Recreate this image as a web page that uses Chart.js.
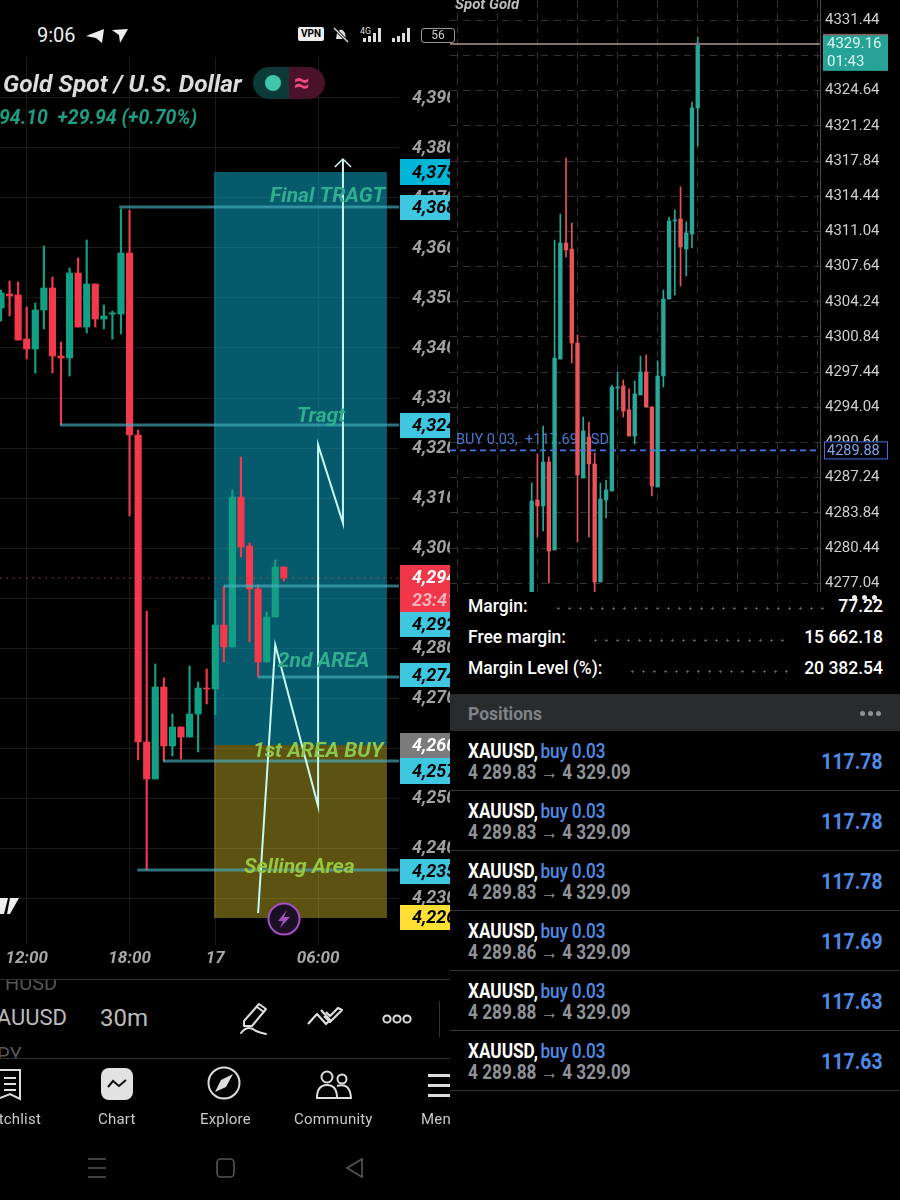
<!DOCTYPE html>
<html>
<head>
<meta charset="utf-8">
<script src="https://cdn.jsdelivr.net/npm/chart.js@4"></script>
<style>
html,body{margin:0;padding:0;background:#000;}
body{width:900px;height:1200px;position:relative;overflow:hidden;font-family:Roboto,sans-serif;color:#fff;}
.abs{position:absolute;white-space:nowrap;line-height:1;}
#leftWrap{position:absolute;left:0;top:57px;width:450px;height:918px;overflow:hidden;}
#rightWrap{position:absolute;left:450px;top:0;width:450px;height:592px;overflow:hidden;}
canvas{display:block;}
.dots{position:absolute;height:3px;background:radial-gradient(circle,#5a5a5a 1px,transparent 1.3px) 0 0/11px 3px;}
.row{position:absolute;left:450px;width:450px;height:60px;border-bottom:1px solid #333;box-sizing:border-box;}
.row .a{position:absolute;left:18px;top:10px;font-size:20px;font-weight:500;transform:scaleX(.86);transform-origin:left;white-space:nowrap;line-height:1;}
.row .a b{font-weight:700;color:#fff;}
.row .a span{color:#4f8be8;margin-left:-2px;letter-spacing:-.2px;}
.row .b{position:absolute;left:18px;top:31px;font-size:20px;font-weight:700;color:#8f9296;transform:scaleX(.86);transform-origin:left;white-space:nowrap;line-height:1;}
.row .c{position:absolute;right:18px;top:20px;font-size:22px;font-weight:700;color:#4f8be8;transform:scaleX(.88);transform-origin:right;line-height:1;}
.nav{position:absolute;top:1111px;font-size:15px;color:#c9c9c9;line-height:1;white-space:nowrap;letter-spacing:.2px;}
.acct{font-size:17.5px;font-weight:500;}
</style>
</head>
<body>
<div id="leftWrap"><canvas id="leftChart" width="520" height="918"></canvas></div>
<div id="rightWrap"><canvas id="rightChart" width="450" height="592"></canvas></div>

<!-- status bar -->
<div class="abs" style="left:37px;top:25px;font-size:20px;color:#eee;">9:06</div>
<svg class="abs" style="left:84px;top:26px" width="46" height="20" viewBox="0 0 46 20">
  <path d="M2 10 L20 3 L18 17 L12 12 Z" fill="#eee"/>
  <path d="M28 4 L44 3 L36 17 L35 9 Z" fill="#eee"/>
</svg>
<div class="abs" style="left:298px;top:27px;width:26px;height:14px;background:#eee;color:#000;font-size:10px;font-weight:700;text-align:center;line-height:14px;border-radius:2px;">VPN</div>
<svg class="abs" style="left:332px;top:26px" width="18" height="18" viewBox="0 0 18 18">
  <path d="M4 13 L5 7 Q9 0 13 7 L14 13 Z M7 15 h4" fill="#ddd"/><path d="M2 2 L16 16" stroke="#000" stroke-width="3"/><path d="M2 2 L16 16" stroke="#ddd" stroke-width="1.4"/>
</svg>
<div class="abs" style="left:360px;top:27px;font-size:9px;color:#ddd;">4G</div>
<svg class="abs" style="left:355px;top:27px" width="60" height="16" viewBox="0 0 60 16" fill="#ddd">
  <rect x="8" y="11" width="3" height="4"/><rect x="13" y="9" width="3" height="6"/><rect x="18" y="6" width="3" height="9"/><rect x="23" y="1" width="3" height="14"/>
  <rect x="37" y="11" width="3" height="4"/><rect x="42" y="9" width="3" height="6"/><rect x="47" y="6" width="3" height="9"/><rect x="52" y="1" width="3" height="14"/>
</svg>
<div class="abs" style="left:421px;top:28px;width:32px;height:13px;border:1px solid #999;border-radius:3px;font-size:12px;color:#ccc;text-align:center;line-height:13px;">56</div>

<!-- title -->
<div class="abs" style="left:3px;top:72px;font-size:24.5px;font-weight:700;font-style:italic;color:#dcdcdc;">Gold Spot / U.S. Dollar</div>
<div class="abs" style="left:-1px;top:108px;font-size:19.5px;font-weight:700;font-style:italic;color:#1f9d84;">94.10&nbsp; +29.94 (+0.70%)</div>
<div class="abs" style="left:253px;top:67px;width:36px;height:32px;background:#0c3a38;border-radius:16px 0 0 16px;"></div>
<div class="abs" style="left:289px;top:67px;width:36px;height:32px;background:#4a1228;border-radius:0 16px 16px 0;"></div>
<div class="abs" style="left:265px;top:75px;width:16px;height:16px;background:#3fc6ac;border-radius:50%;"></div>
<div class="abs" style="left:294px;top:69px;font-size:28px;font-weight:700;color:#ec4a80;">≈</div>

<!-- logo + lightning -->
<svg class="abs" style="left:0;top:896px" width="20" height="20" viewBox="0 0 20 20"><path d="M0 2 H8 L4 18 H0 Z M10 2 H19 L10 18 H7 Z" fill="#eee"/></svg>
<svg class="abs" style="left:266px;top:901px" width="36" height="36" viewBox="0 0 36 36">
  <circle cx="18" cy="18" r="15.5" fill="#1c1024" stroke="#a64fc4" stroke-width="2"/>
  <path d="M21 9 L12 20 H17 L14 27 L24 16 H18 Z" fill="#a64fc4"/>
</svg>

<!-- toolbar -->
<div class="abs" style="left:0;top:979px;width:450px;height:1px;background:#333;"></div>
<div class="abs" style="left:0;top:1058px;width:450px;height:1px;background:#333;"></div>
<div style="position:absolute;left:0;top:980px;width:450px;height:78px;overflow:hidden;">
  <div class="abs" style="left:5px;top:-7px;font-size:20px;color:#555;">HUSD</div>
  <div class="abs" style="left:-17px;top:27px;font-size:22px;color:#bbb;">XAUUSD</div>
  <div class="abs" style="left:100px;top:26px;font-size:24px;color:#bbb;">30m</div>
  <div class="abs" style="left:-14px;top:65px;font-size:20px;color:#555;">JPY</div>
</div>
<svg class="abs" style="left:238px;top:1000px" width="34" height="36" viewBox="0 0 34 36" fill="none" stroke="#ddd" stroke-width="2" stroke-linecap="round" stroke-linejoin="round">
  <path d="M6 21 L21 4 L28 9 L14 26 L6 26 Z M19 7 L26 12"/><path d="M3 33 Q10 24 18 31 Q23 33 28 34"/>
</svg>
<svg class="abs" style="left:306px;top:1006px" width="38" height="24" viewBox="0 0 38 24" fill="none" stroke="#ddd" stroke-width="2.2" stroke-linejoin="round">
  <path d="M2 18 L11 8 L20 18 L24 14 L15 4 M18 10 L24 16 L36 4 L32 2 L24 10 L20 6"/>
</svg>
<svg class="abs" style="left:381px;top:1012px" width="32" height="14" viewBox="0 0 32 14" fill="none" stroke="#ddd" stroke-width="2"><circle cx="6" cy="7" r="3.6"/><circle cx="16" cy="7" r="3.6"/><circle cx="26" cy="7" r="3.6"/></svg>
<div class="abs" style="left:439px;top:1001px;width:1px;height:36px;background:#333;"></div>

<!-- bottom nav -->
<svg class="abs" style="left:-2px;top:1068px" width="26" height="34" viewBox="0 0 26 34" fill="none" stroke="#ddd" stroke-width="2"><path d="M2 2 H22 V31 L12 26 L2 30 M6 10 H18 M6 16 H18 M6 22 H18"/></svg>
<div class="abs" style="left:101px;top:1068px;width:32px;height:32px;background:#e2e2e2;border-radius:8px;"></div>
<svg class="abs" style="left:107px;top:1078px" width="20" height="12" viewBox="0 0 20 12" fill="none" stroke="#111" stroke-width="2"><path d="M1 9 L6 3 L12 8 L19 2"/></svg>
<svg class="abs" style="left:207px;top:1066px" width="34" height="34" viewBox="0 0 34 34"><circle cx="17" cy="17" r="15.5" fill="none" stroke="#ddd" stroke-width="2"/><path d="M26 8 L19 21 L8 26 L14 14 Z" fill="#ddd"/></svg>
<svg class="abs" style="left:316px;top:1070px" width="36" height="30" viewBox="0 0 36 30" fill="none" stroke="#ddd" stroke-width="2"><circle cx="11" cy="7" r="5.5"/><circle cx="26" cy="9" r="4.5"/><path d="M1 28 Q1 15 11 15 Q21 15 21 28 Z M21 16 Q34 12 35 28 H21"/></svg>
<div class="abs" style="left:428px;top:1074px;width:22px;height:3px;background:#ddd;"></div>
<div class="abs" style="left:428px;top:1084px;width:22px;height:3px;background:#ddd;"></div>
<div class="abs" style="left:428px;top:1094px;width:22px;height:3px;background:#ddd;"></div>
<div style="position:absolute;left:0;top:1100px;width:450px;height:40px;overflow:hidden;">
  <div class="nav" style="left:-23px;top:12px;">Watchlist</div>
  <div class="nav" style="left:98px;top:12px;">Chart</div>
  <div class="nav" style="left:200px;top:12px;">Explore</div>
  <div class="nav" style="left:294px;top:12px;">Community</div>
  <div class="nav" style="left:421px;top:12px;">Menu</div>
</div>
<svg class="abs" style="left:85px;top:1156px" width="280" height="24" viewBox="0 0 280 24" fill="none" stroke="#555" stroke-width="1.6">
  <path d="M3 3 H21 M3 12 H21 M3 21 H21"/><rect x="132" y="3" width="17" height="18" rx="4"/><path d="M277 3 L262 12 L277 21 Z"/>
</svg>

<!-- account panel -->
<div class="abs" style="left:852px;top:595px;width:5px;height:5px;border-radius:50%;background:#eee;box-shadow:10px 0 0 #eee,20px 0 0 #eee;"></div>
<div class="abs acct" style="left:468px;top:598px;">Margin:</div>
<div class="abs acct" style="right:17px;top:598px;">77.22</div>
<div class="dots" style="left:553px;top:607px;width:275px;"></div>
<div class="abs acct" style="left:468px;top:629px;">Free margin:</div>
<div class="abs acct" style="right:17px;top:629px;">15 662.18</div>
<div class="dots" style="left:590px;top:639px;width:198px;"></div>
<div class="abs acct" style="left:468px;top:660px;">Margin Level (%):</div>
<div class="abs acct" style="right:17px;top:660px;">20 382.54</div>
<div class="dots" style="left:627px;top:670px;width:165px;"></div>
<div class="abs" style="left:450px;top:694px;width:450px;height:37px;background:#2a2b2d;"></div>
<div class="abs" style="left:468px;top:706px;font-size:17.5px;font-weight:700;color:#7f8388;">Positions</div>
<div class="abs" style="left:860px;top:711px;width:5px;height:5px;border-radius:50%;background:#8d9095;box-shadow:8px 0 0 #8d9095,16px 0 0 #8d9095;"></div>
<div id="rows"></div>

<script>
// left chart, Gold Spot 30m
var leftOpen  = [4348.0,4350.8,4350.6,4341.8,4339.8,4347.6,4352.0,4338.4,4338.0,4355.0,4344.2,4352.8,4345.8,4346.8,4346.8,4359.0,4322.6,4261.2,4253.8,4272.2,4260.4,4264.2,4262.2,4266.8,4272.0,4271.8,4284.6,4280.2,4310.2,4300.4,4291.8,4277.2,4286.2,4296.2];
var leftHigh  = [4351.6,4353.4,4353.2,4348.2,4349.0,4360.4,4354.2,4341.2,4356.0,4358.0,4361.6,4352.8,4348.6,4347.4,4367.8,4367.6,4323.6,4287.4,4276.8,4274.0,4266.8,4264.2,4276.4,4273.2,4275.8,4289.6,4292.4,4311.6,4318.2,4301.0,4292.6,4287.2,4297.6,4296.2];
var leftLow   = [4345.4,4346.4,4341.6,4337.8,4335.0,4343.8,4335.0,4324.6,4334.4,4344.2,4343.0,4344.2,4343.8,4341.8,4342.8,4306.4,4257.6,4235.6,4253.8,4257.4,4258.4,4257.8,4262.2,4259.2,4268.8,4266.6,4277.2,4280.2,4298.2,4281.2,4274.2,4277.2,4286.2,4293.4];
var leftClose = [4351.0,4350.4,4341.6,4339.8,4347.6,4352.0,4338.4,4338.0,4355.0,4344.2,4352.8,4345.8,4346.4,4347.0,4359.0,4322.6,4261.2,4253.8,4272.2,4260.4,4264.2,4262.2,4266.8,4272.0,4271.8,4284.6,4280.2,4310.2,4300.2,4291.8,4277.2,4286.2,4296.2,4294.0];
var leftPriceTicks = [4390,4380,4370,4360,4350,4340,4330,4320,4310,4300,4290,4280,4270,4260,4250,4240,4230];
var leftTimeTicks = [3,15,25,37];
var leftTimeLabels = ["12:00","18:00","17","06:00"];
var leftLevelStart = [13.8,6.9,26.0,30.0,18.9,15.9];
var leftLevelPrice = [4368.2,4324.6,4292.4,4274.2,4257.4,4235.6];
var lastPriceLeft = 4294.0;
var zigzagIndex = [30,32,37,37,39.9,39.9];
var zigzagPrice = [4227,4280.6,4248.4,4320.6,4305,4377.8];
var arrowIndex = [38.95,39.9,40.85];
var arrowPrice = [4376.2,4377.8,4376.2];
var zoneEdges = [24.85,45.03];
var zoneTeal = [4375.2,4260.6];
var zoneOlive = [4260.6,4226];
var noteTexts = ["Final TRAGT","Tragt","2nd AREA","1st AREA BUY","Selling Area"];
var noteIndex = [31.4,34.5,32.3,29.4,28.35];
var notePrice = [4370.2,4326.2,4277.2,4259.2,4236.0];
var noteColors = ["#2fae90","#2fae90","#2fae90","#8cc850","#98c83c"];
var tagTexts = ["4,375","4,368","4,324","4,294","23:41","4,292","4,274","4,260","4,257","4,235","4,226"];

// right chart, Spot Gold M5
var rightOpen  = [4275.43,4285.09,4284.51,4288.76,4280.26,4298.71,4309.92,4309.34,4300.26,4287.22,4291.18,4288.57,4277.17,4285.09,4285.96,4295.91,4296.11,4293.79,4291.27,4295.24,4297.46,4294.08,4286.35,4297.07,4304.51,4312.05,4312.24,4309.34,4310.79,4322.97];
var rightHigh  = [4286.73,4289.54,4292.24,4289.25,4310.21,4312.72,4318.13,4311.85,4301.03,4293.11,4292.63,4289.63,4286.73,4287.02,4296.20,4297.46,4296.69,4295.82,4296.59,4299.00,4299.10,4294.08,4298.52,4305.38,4312.43,4313.11,4315.33,4311.95,4323.54,4329.82];
var rightLow   = [4275.00,4281.52,4282.10,4277.07,4280.26,4298.71,4308.57,4298.33,4281.03,4287.22,4281.52,4275.43,4277.17,4283.35,4285.96,4293.79,4293.11,4291.27,4290.50,4295.24,4294.08,4285.48,4286.35,4296.01,4304.51,4304.90,4305.77,4306.73,4309.44,4319.29];
var rightClose = [4284.99,4284.51,4288.76,4280.16,4298.81,4309.92,4309.25,4300.26,4287.51,4291.76,4288.57,4277.17,4285.19,4286.06,4296.01,4296.01,4293.69,4291.27,4295.33,4297.46,4294.08,4286.44,4297.07,4304.51,4312.05,4312.14,4309.54,4310.89,4322.97,4329.25];
var rightPriceTicks = [4331.44,4328.04,4324.64,4321.24,4317.84,4314.44,4311.04,4307.64,4304.24,4300.84,4297.44,4294.04,4290.64,4287.24,4283.84,4280.44,4277.04];
var rightTimeTicks = [-13,-6,1,8,15,22,29,36,43,50];
var bidPrice = 4329.16;
var buyPrice = 4289.88;

// positions table
var posOpen = ["4 289.83","4 289.83","4 289.83","4 289.86","4 289.88","4 289.88"];
var posClose = "4 329.09";
var posProfit = ["117.78","117.78","117.78","117.69","117.63","117.63"];

var rowsHtml = "";
for (var r = 0; r < posOpen.length; r++) {
  rowsHtml += '<div class="row" style="top:' + (731 + r * 60) + 'px"><div class="a"><b>XAUUSD,</b> <span>buy 0.03</span></div>' +
    '<div class="b">' + posOpen[r] + ' → ' + posClose + '</div><div class="c">' + posProfit[r] + '</div></div>';
}
document.getElementById("rows").innerHTML = rowsHtml;

function candleSets(open, high, low, close, bodyW, wickW, up, down) {
  var wick = [], body = [], colors = [];
  for (var i = 0; i < open.length; i++) {
    wick.push({x: i, y: [low[i], high[i]]});
    body.push({x: i, y: [open[i], close[i]]});
    colors.push(close[i] >= open[i] ? up : down);
  }
  return [
    {type: "bar", data: wick, backgroundColor: colors, barThickness: wickW, grouped: false, order: 4},
    {type: "bar", data: body, backgroundColor: colors, barThickness: bodyW, grouped: false, order: 3}
  ];
}
function lineSet(xs, ys, color, width, dash, order) {
  return {type: "line", data: xs.map(function(x, i){ return {x: x, y: ys[i]}; }), borderColor: color, borderWidth: width,
    borderDash: dash || [], pointRadius: 0, tension: 0, fill: false, order: order};
}
// drop the label overhang, the plot has to fill the canvas
function noPad(s) {
  s.paddingTop = 0; s.paddingBottom = 0; s.paddingLeft = 0; s.paddingRight = 0;
}

var LEFT_XMIN = -0.117, LEFT_XMAX = 46.44;
var leftSets = candleSets(leftOpen, leftHigh, leftLow, leftClose, 6.5, 1.5, "#12a085", "#f23a4c");
leftSets.push(lineSet([LEFT_XMIN, LEFT_XMAX], [lastPriceLeft, lastPriceLeft], "#b04a44", 1, [1.5, 5], 2));
for (var n = 0; n < leftLevelPrice.length; n++) {
  leftSets.push(lineSet([leftLevelStart[n], LEFT_XMAX], [leftLevelPrice[n], leftLevelPrice[n]], "rgba(70,175,190,.65)", 3, null, 1));
}
leftSets.push(lineSet(zigzagIndex, zigzagPrice, "#c6fbf4", 2, null, 0));
leftSets.push(lineSet(arrowIndex, arrowPrice, "#c6fbf4", 1.5, null, 0));

var tagBoxes = [
  [159,26,"#00b6d6","#000"],[195,25,"#3fc6e0","#000"],[413,25,"#3fc6e0","#000"],
  [565,24,"#f0374a","#fff"],[589,23,"#f0374a","#f7b3ba"],[612,25,"#3fc6e0","#000"],
  [663,24,"#3fc6e0","#000"],[733,25,"#7b7b7b","#fff"],[758,26,"#3fc6e0","#000"],
  [859,25,"#3fc6e0","#000"],[905,25,"#ffdf33","#000"]
];
var leftPlugin = {
  id: "leftDraw",
  beforeDatasetsDraw: function(chart) {
    var c = chart.ctx, xs = chart.scales.x, ys = chart.scales.y;
    var l = xs.getPixelForValue(zoneEdges[0]), w = xs.getPixelForValue(zoneEdges[1]) - l;
    c.save();
    c.fillStyle = "rgba(10,150,178,.6)";
    c.fillRect(l, ys.getPixelForValue(zoneTeal[0]), w, ys.getPixelForValue(zoneTeal[1]) - ys.getPixelForValue(zoneTeal[0]));
    c.fillStyle = "rgba(200,178,40,.46)";
    c.fillRect(l, ys.getPixelForValue(zoneOlive[0]), w, ys.getPixelForValue(zoneOlive[1]) - ys.getPixelForValue(zoneOlive[0]));
    c.restore();
  },
  afterDraw: function(chart) {
    var c = chart.ctx, xs = chart.scales.x, ys = chart.scales.y;
    c.save();
    c.font = "italic 700 21px Roboto";
    c.textBaseline = "middle";
    c.textAlign = "left";
    noteTexts.forEach(function(t, i) {
      c.fillStyle = noteColors[i];
      c.fillText(t, xs.getPixelForValue(noteIndex[i]), ys.getPixelForValue(notePrice[i]));
    });
    c.font = "italic 700 18px Roboto";
    tagBoxes.forEach(function(b, i) {
      var top = b[0] - 57;
      c.fillStyle = b[2];
      c.fillRect(400, top, 120, b[1]);
      c.fillStyle = b[3];
      c.fillText(tagTexts[i], 412, top + b[1] / 2 + 1);
    });
    c.restore();
  }
};

new Chart(document.getElementById("leftChart"), {
  type: "bar",
  data: {datasets: leftSets},
  plugins: [leftPlugin],
  options: {
    responsive: false, animation: false,
    layout: {padding: 0},
    plugins: {legend: {display: false}, tooltip: {enabled: false}},
    scales: {
      x: {
        type: "linear", min: LEFT_XMIN, max: LEFT_XMAX, offset: false,
        afterBuildTicks: function(s){ s.ticks = leftTimeTicks.map(function(v){ return {value: v}; }); },
        afterFit: function(s){ s.height = 30; noPad(s); },
        grid: {color: "#1b1b1b", offset: false, drawTicks: false},
        border: {display: false},
        ticks: {
          autoSkip: false, maxRotation: 0, padding: 4, color: "#a8a8a8",
          font: {family: "Roboto", size: 17, weight: "700", style: "italic"},
          callback: function(v){ return leftTimeLabels[leftTimeTicks.indexOf(v)]; }
        }
      },
      y: {
        position: "right", min: 4220.6, max: 4398.2,
        afterBuildTicks: function(s){ s.ticks = leftPriceTicks.map(function(v){ return {value: v}; }); },
        afterFit: function(s){ s.width = 121; noPad(s); },
        grid: {color: "#1b1b1b", drawTicks: false},
        border: {display: false},
        ticks: {
          padding: 13, color: "#a0a0a0", autoSkip: false,
          font: {family: "Roboto", size: 18, weight: "700", style: "italic"},
          callback: function(v){ return String(v).replace(/^(\d)(\d{3})$/, "$1,$2"); }
        }
      }
    }
  }
});

var RIGHT_XMIN = -14.27, RIGHT_XMAX = 50.36;
var rightSets = candleSets(rightOpen, rightHigh, rightLow, rightClose, 3.7, 1, "#2aa79b", "#e8545a");
rightSets.push(lineSet([RIGHT_XMIN, RIGHT_XMAX], [bidPrice, bidPrice], "#85706f", 2, null, 2));
rightSets.push(lineSet([RIGHT_XMIN, RIGHT_XMAX], [buyPrice, buyPrice], "#4a74e0", 1.6, [6, 4], 1));

var rightPlugin = {
  id: "rightDraw",
  beforeDatasetsDraw: function(chart) {
    var c = chart.ctx, ys = chart.scales.y;
    c.save();
    c.fillStyle = "#4a78d0";
    c.font = "14.5px Roboto";
    c.textBaseline = "middle";
    c.fillText("BUY 0.03,  +117.69 USD", 6, ys.getPixelForValue(buyPrice) - 10);
    c.fillStyle = "#bdbdbd";
    c.font = "italic 700 15px Roboto";
    c.fillText("Spot Gold", 5, 5);
    c.restore();
  },
  afterDraw: function(chart) {
    var c = chart.ctx, ys = chart.scales.y;
    var by = ys.getPixelForValue(bidPrice), ay = ys.getPixelForValue(buyPrice);
    c.save();
    c.fillStyle = "#27a296";
    c.fillRect(373, by - 9, 65, 36);
    c.fillStyle = "#85605f";
    c.fillRect(373, by - 10, 65, 1.5);
    c.fillStyle = "#d8f5f1";
    c.font = "15px Roboto";
    c.textBaseline = "middle";
    c.fillText(bidPrice.toFixed(2), 377, by);
    c.fillText("01:43", 377, by + 18);
    c.fillStyle = "#000";
    c.fillRect(374, ay - 9, 64, 18);
    c.strokeStyle = "#3f6fe0";
    c.lineWidth = 1;
    c.strokeRect(374.5, ay - 8.5, 63, 17);
    c.fillStyle = "#7fa4f0";
    c.font = "14.5px Roboto";
    c.fillText(buyPrice.toFixed(2), 377, ay + 1);
    c.restore();
  }
};

new Chart(document.getElementById("rightChart"), {
  type: "bar",
  data: {datasets: rightSets},
  plugins: [rightPlugin],
  options: {
    responsive: false, animation: false,
    layout: {padding: 0},
    plugins: {legend: {display: false}, tooltip: {enabled: false}},
    scales: {
      x: {
        type: "linear", min: RIGHT_XMIN, max: RIGHT_XMAX, offset: false,
        afterBuildTicks: function(s){ s.ticks = rightTimeTicks.map(function(v){ return {value: v}; }); },
        afterFit: function(s){ s.height = 0; noPad(s); },
        grid: {color: "#333333", offset: false, drawTicks: false, lineWidth: 1},
        border: {display: false, dash: [7, 6]},
        ticks: {display: false}
      },
      y: {
        position: "right", min: 4276.2, max: 4333.4,
        afterBuildTicks: function(s){ s.ticks = rightPriceTicks.map(function(v){ return {value: v}; }); },
        afterFit: function(s){ s.width = 80; noPad(s); },
        grid: {color: "#333333", drawTicks: false},
        border: {display: true, color: "#4a4a4a", width: 1, dash: [7, 6]},
        ticks: {
          padding: 5, color: "#cfcfcf", autoSkip: false,
          font: {family: "Roboto", size: 15},
          callback: function(v){ return v.toFixed(2); }
        }
      }
    }
  }
});
</script>
</body>
</html>
